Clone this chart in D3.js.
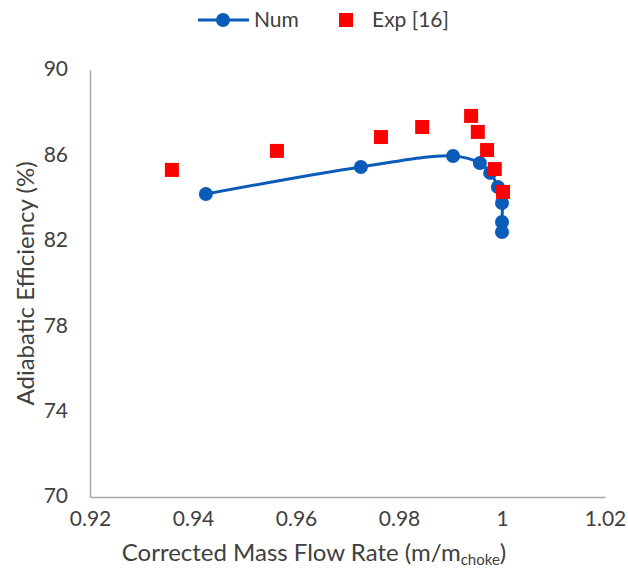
<!DOCTYPE html>
<html>
<head>
<meta charset="utf-8">
<script src="https://cdn.jsdelivr.net/npm/d3@7"></script>
<style>
  html, body { margin: 0; padding: 0; background: #fff; }
  svg { display: block; font-family: Lato, "Open Sans", sans-serif; }
</style>
</head>
<body>
<svg id="chart" width="628" height="568"></svg>
<script>
// Numerical prediction: corrected mass flow (m/m_choke) vs adiabatic efficiency (%)
const numFlow = [0.9425, 0.9726, 0.9905, 0.9957, 0.9977, 0.9992, 1.0000, 1.0000, 1.0000];
const numEff  = [84.19, 85.46, 85.97, 85.64, 85.18, 84.52, 83.77, 82.88, 82.41];

// Experimental data, reference [16]
const expFlow = [0.9359, 0.9563, 0.9765, 0.9845, 0.9940, 0.9953, 0.9971, 0.9986, 1.0002];
const expEff  = [85.32, 86.21, 86.86, 87.33, 87.85, 87.10, 86.25, 85.36, 84.29];

const xTicks = [0.92, 0.94, 0.96, 0.98, 1, 1.02];
const yTicks = [70, 74, 78, 82, 86, 90];

const blue = "#0a5cb8";
const red = "#ff0000";
const axisGrey = "#a6a6a6";
const textColor = "#404040";
const fontSize = 21;
const titleSize = 24;
const fontFamily = "Lato, 'Open Sans', sans-serif";

const svg = d3.select("#chart");

const x = d3.scaleLinear().domain([0.92, 1.02]).range([90, 605]);
const y = d3.scaleLinear().domain([70, 90]).range([497, 70]);

// Axes: plain grey lines, no tick marks
const xAxis = svg.append("g")
  .attr("transform", `translate(0,${y(70)})`)
  .call(d3.axisBottom(x).tickValues(xTicks).tickSize(0).tickPadding(14)
    .tickFormat(d => d3.format("")(+d.toFixed(2))));
const yAxis = svg.append("g")
  .attr("transform", `translate(${x(0.92)},0)`)
  .call(d3.axisLeft(y).tickValues(yTicks).tickSize(0).tickPadding(22));

[xAxis, yAxis].forEach(g => {
  g.select(".domain").attr("stroke", axisGrey).attr("stroke-width", 1.5);
  g.selectAll("text").attr("fill", textColor).attr("font-size", fontSize)
    .attr("font-family", fontFamily);
});
yAxis.selectAll("text").attr("dy", "0.28em");

// Axis titles
const xTitle = svg.append("text")
  .attr("x", 314).attr("y", 561)
  .attr("text-anchor", "middle")
  .attr("fill", textColor).attr("font-size", titleSize);
xTitle.append("tspan").text("Corrected Mass Flow Rate (m/m");
xTitle.append("tspan").attr("font-size", 15).attr("dy", 4).text("choke");
xTitle.append("tspan").attr("dy", -4).text(")");

svg.append("text")
  .attr("transform", `translate(34,${(y(70) + y(90)) / 2}) rotate(-90)`)
  .attr("text-anchor", "middle")
  .attr("fill", textColor).attr("font-size", titleSize)
  .text("Adiabatic Efficiency (%)");

// Numerical curve (smoothed line with circle markers)
const numData = numFlow.map((f, i) => ({ f, e: numEff[i] }));
const line = d3.line()
  .x(d => x(d.f)).y(d => y(d.e))
  .curve(d3.curveCatmullRom.alpha(0.5));

svg.append("path")
  .datum(numData)
  .attr("d", line)
  .attr("fill", "none")
  .attr("stroke", blue)
  .attr("stroke-width", 3);

svg.append("g").selectAll("circle")
  .data(numData)
  .join("circle")
  .attr("cx", d => x(d.f)).attr("cy", d => y(d.e))
  .attr("r", 7)
  .attr("fill", blue);

// Experimental points (red squares)
const expData = expFlow.map((f, i) => ({ f, e: expEff[i] }));
const sq = 14;
svg.append("g").selectAll("rect")
  .data(expData)
  .join("rect")
  .attr("x", d => x(d.f) - sq / 2).attr("y", d => y(d.e) - sq / 2)
  .attr("width", sq).attr("height", sq)
  .attr("fill", red);

// Legend
const leg = svg.append("g").attr("transform", "translate(0,20)");
leg.append("line").attr("x1", 198).attr("x2", 249).attr("y1", 0).attr("y2", 0)
  .attr("stroke", blue).attr("stroke-width", 3);
leg.append("circle").attr("cx", 223).attr("cy", 0).attr("r", 7).attr("fill", blue);
leg.append("text").attr("x", 254).attr("y", 7).attr("fill", textColor)
  .attr("font-size", fontSize).text("Num");
leg.append("rect").attr("x", 339).attr("y", -7).attr("width", 14).attr("height", 14).attr("fill", red);
leg.append("text").attr("x", 372).attr("y", 7).attr("fill", textColor)
  .attr("font-size", fontSize).text("Exp [16]");
</script>
</body>
</html>
